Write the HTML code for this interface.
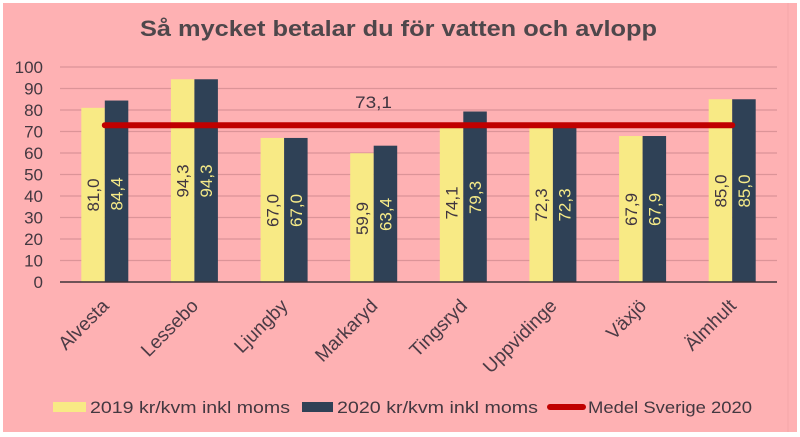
<!DOCTYPE html>
<html><head><meta charset="utf-8"><style>
html,body{margin:0;padding:0;background:#fff;}
svg{display:block;}
text{font-family:"Liberation Sans",sans-serif;}
</style></head><body>
<svg width="800" height="437" viewBox="0 0 800 437" xmlns="http://www.w3.org/2000/svg">
<rect x="0" y="0" width="800" height="437" fill="#ffffff"/>
<rect x="3" y="3" width="794" height="429" fill="#FEB1B3"/>
<line x1="788" y1="3" x2="788" y2="432" stroke="#F4A7AA" stroke-width="1"/>

<text x="140" y="36" font-size="22" font-weight="bold" fill="#4E474B" textLength="517" lengthAdjust="spacingAndGlyphs">Så mycket betalar du för vatten och avlopp</text>

<g stroke="#DC9498" stroke-width="1.2">
<line x1="60" y1="260.5" x2="777" y2="260.5"/>
<line x1="60" y1="239" x2="777" y2="239"/>
<line x1="60" y1="217.5" x2="777" y2="217.5"/>
<line x1="60" y1="196" x2="777" y2="196"/>
<line x1="60" y1="174.5" x2="777" y2="174.5"/>
<line x1="60" y1="153" x2="777" y2="153"/>
<line x1="60" y1="131.5" x2="777" y2="131.5"/>
<line x1="60" y1="110" x2="777" y2="110"/>
<line x1="60" y1="88.5" x2="777" y2="88.5"/>
<line x1="60" y1="67" x2="777" y2="67"/>
</g>

<g font-size="17" fill="#433840" text-anchor="end">
<text x="43" y="288">0</text>
<text x="43" y="266.5">10</text>
<text x="43" y="245">20</text>
<text x="43" y="223.5">30</text>
<text x="43" y="202">40</text>
<text x="43" y="180.5">50</text>
<text x="43" y="159">60</text>
<text x="43" y="137.5">70</text>
<text x="43" y="116">80</text>
<text x="43" y="94.5">90</text>
<text x="43" y="73">100</text>
</g>

<!-- bars -->
<g>
<rect x="81.3" y="107.85" width="23.5" height="174.15" fill="#F8EA85"/>
<rect x="104.8" y="100.54" width="23.5" height="181.46" fill="#2F4156"/>
<rect x="170.9" y="79.26" width="23.5" height="202.74" fill="#F8EA85"/>
<rect x="194.4" y="79.26" width="23.5" height="202.74" fill="#2F4156"/>
<rect x="260.6" y="137.95" width="23.5" height="144.05" fill="#F8EA85"/>
<rect x="284.1" y="137.95" width="23.5" height="144.05" fill="#2F4156"/>
<rect x="350.2" y="153.22" width="23.5" height="128.78" fill="#F8EA85"/>
<rect x="373.7" y="145.69" width="23.5" height="136.31" fill="#2F4156"/>
<rect x="439.8" y="122.69" width="23.5" height="159.31" fill="#F8EA85"/>
<rect x="463.3" y="111.51" width="23.5" height="170.49" fill="#2F4156"/>
<rect x="529.4" y="126.56" width="23.5" height="155.44" fill="#F8EA85"/>
<rect x="552.9" y="126.56" width="23.5" height="155.44" fill="#2F4156"/>
<rect x="619.1" y="136.02" width="23.5" height="145.98" fill="#F8EA85"/>
<rect x="642.6" y="136.02" width="23.5" height="145.98" fill="#2F4156"/>
<rect x="708.7" y="99.25" width="23.5" height="182.75" fill="#F8EA85"/>
<rect x="732.2" y="99.25" width="23.5" height="182.75" fill="#2F4156"/>
</g>

<line x1="60" y1="282" x2="777" y2="282" stroke="#3E3239" stroke-width="1.6"/>

<!-- data labels -->
<g font-size="17" text-anchor="middle">
<text transform="translate(93,195) rotate(-90)" x="0" y="6" fill="#3F3540">81,0</text>
<text transform="translate(116.6,194) rotate(-90)" x="0" y="6" fill="#F6EA88">84,4</text>
<text transform="translate(182.7,181) rotate(-90)" x="0" y="6" fill="#3F3540">94,3</text>
<text transform="translate(206.2,181) rotate(-90)" x="0" y="6" fill="#F6EA88">94,3</text>
<text transform="translate(272.3,210.5) rotate(-90)" x="0" y="6" fill="#3F3540">67,0</text>
<text transform="translate(295.8,210.5) rotate(-90)" x="0" y="6" fill="#F6EA88">67,0</text>
<text transform="translate(361.9,218.5) rotate(-90)" x="0" y="6" fill="#3F3540">59,9</text>
<text transform="translate(385.4,214.5) rotate(-90)" x="0" y="6" fill="#F6EA88">63,4</text>
<text transform="translate(451.6,203) rotate(-90)" x="0" y="6" fill="#3F3540">74,1</text>
<text transform="translate(475.1,197.5) rotate(-90)" x="0" y="6" fill="#F6EA88">79,3</text>
<text transform="translate(541.2,205) rotate(-90)" x="0" y="6" fill="#3F3540">72,3</text>
<text transform="translate(564.7,205) rotate(-90)" x="0" y="6" fill="#F6EA88">72,3</text>
<text transform="translate(630.8,209.5) rotate(-90)" x="0" y="6" fill="#3F3540">67,9</text>
<text transform="translate(654.3,209.5) rotate(-90)" x="0" y="6" fill="#F6EA88">67,9</text>
<text transform="translate(720.4,191) rotate(-90)" x="0" y="6" fill="#3F3540">85,0</text>
<text transform="translate(743.9,191) rotate(-90)" x="0" y="6" fill="#F6EA88">85,0</text>
</g>

<!-- average line -->
<line x1="104.8" y1="125.2" x2="732.2" y2="125.2" stroke="#C00000" stroke-width="6" stroke-linecap="round"/>
<text x="355" y="108" font-size="17" fill="#3F3540" textLength="37" lengthAdjust="spacingAndGlyphs">73,1</text>

<!-- x labels -->
<g font-size="19" fill="#4B3B45" text-anchor="end">
<text transform="translate(110,307) rotate(-45)">Alvesta</text>
<text transform="translate(199.4,307) rotate(-45)">Lessebo</text>
<text transform="translate(289,307) rotate(-45)">Ljungby</text>
<text transform="translate(378.7,307) rotate(-45)">Markaryd</text>
<text transform="translate(468.3,307) rotate(-45)">Tingsryd</text>
<text transform="translate(557.9,307) rotate(-45)">Uppvidinge</text>
<text transform="translate(647.5,307) rotate(-45)">Växjö</text>
<text transform="translate(737.2,307) rotate(-45)">Älmhult</text>
</g>

<!-- legend -->
<rect x="53" y="402" width="33" height="10" fill="#F8EA85"/>
<text x="90" y="413" font-size="17" fill="#433840" textLength="200" lengthAdjust="spacingAndGlyphs">2019 kr/kvm inkl moms</text>
<rect x="302" y="402" width="31" height="10" fill="#2F4156"/>
<text x="337" y="413" font-size="17" fill="#433840" textLength="201" lengthAdjust="spacingAndGlyphs">2020 kr/kvm inkl moms</text>
<line x1="550" y1="407" x2="583" y2="407" stroke="#C00000" stroke-width="6" stroke-linecap="round"/>
<text x="588" y="413" font-size="17" fill="#433840" textLength="164" lengthAdjust="spacingAndGlyphs">Medel Sverige 2020</text>
</svg>
</body></html>
